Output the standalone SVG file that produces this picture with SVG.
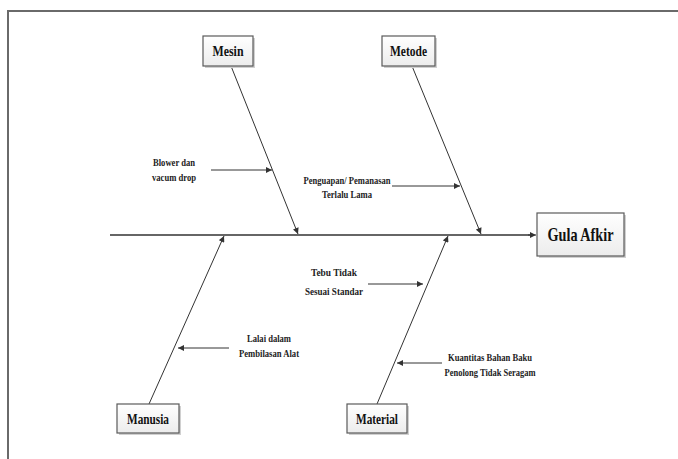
<svg xmlns="http://www.w3.org/2000/svg" width="678" height="459" viewBox="0 0 678 459">
  <style>
    .frame { fill: none; stroke: #6a6a6a; stroke-width: 2; }
    .box { fill: url(#boxFill); stroke: #5a5a5a; stroke-width: 1.2; }
    .shadow { fill: #d0d0d0; }
    text { font-family: 'Liberation Serif', 'DejaVu Serif', serif; font-weight: bold; text-anchor: middle; }
    .head { font-size: 15px; fill: #111; }
    .big { font-size: 19px; }
    .cause { font-size: 11px; fill: #222; }
    .bone { stroke: #333; stroke-width: 1; fill: none; marker-end: url(#arrow); }
    .spine { stroke: #666; stroke-width: 2; fill: none; }
  </style>
  <defs>
    <linearGradient id="boxFill" x1="0" y1="0" x2="0" y2="1">
      <stop offset="0" stop-color="#ffffff"/>
      <stop offset="1" stop-color="#ececec"/>
    </linearGradient>
    <marker id="arrow" viewBox="0 0 10 10" refX="10" refY="5" markerWidth="8" markerHeight="6" orient="auto" markerUnits="userSpaceOnUse">
      <path d="M0,0 L10,5 L0,10 z" fill="#333"/>
    </marker>
  </defs>

  <rect width="678" height="459" fill="#ffffff"/>
  <!-- page frame, running past the right and bottom edges -->
  <path class="frame" d="M8,470 L8,11 L690,11"/>

  <!-- connectors: spine, bones and cause arrows -->
  <g id="connectors">
    <line class="spine" x1="110" y1="235" x2="530" y2="235"/>
    <line class="bone" x1="528" y1="235" x2="536" y2="235"/>
    <line class="bone" x1="231" y1="66" x2="298" y2="234"/>
    <line class="bone" x1="412" y1="66" x2="481" y2="234"/>
    <line class="bone" x1="149" y1="404" x2="224" y2="236"/>
    <line class="bone" x1="377" y1="404" x2="448" y2="236"/>
    <line class="bone" x1="211" y1="170" x2="272" y2="170"/>
    <line class="bone" x1="392" y1="186" x2="460" y2="186"/>
    <line class="bone" x1="368" y1="284" x2="423" y2="284"/>
    <line class="bone" x1="229" y1="348" x2="178" y2="348"/>
    <line class="bone" x1="442" y1="363" x2="397" y2="363"/>
  </g>

  <!-- category boxes -->
  <g id="mesin">
    <rect class="shadow" x="205" y="38" width="50" height="30"/>
    <rect class="box" x="203" y="36" width="50" height="30"/>
    <text class="head" x="228" y="56" font-family="Liberation Serif" textLength="31" lengthAdjust="spacingAndGlyphs">Mesin</text>
  </g>
  <g id="metode">
    <rect class="shadow" x="384" y="38" width="53" height="30"/>
    <rect class="box" x="382" y="36" width="53" height="30"/>
    <text class="head" x="408.5" y="56" font-family="Liberation Serif" textLength="37" lengthAdjust="spacingAndGlyphs">Metode</text>
  </g>
  <g id="manusia">
    <rect class="shadow" x="119" y="406" width="62" height="29"/>
    <rect class="box" x="117" y="404" width="62" height="29"/>
    <text class="head" x="148" y="424" font-family="Liberation Serif" textLength="42" lengthAdjust="spacingAndGlyphs">Manusia</text>
  </g>
  <g id="material">
    <rect class="shadow" x="349" y="406" width="60" height="29"/>
    <rect class="box" x="347" y="404" width="60" height="29"/>
    <text class="head" x="377" y="424" font-family="Liberation Serif" textLength="42" lengthAdjust="spacingAndGlyphs">Material</text>
  </g>
  <g id="gula-afkir">
    <rect class="shadow" x="539" y="215" width="87" height="43"/>
    <rect class="box" x="537" y="213" width="87" height="43"/>
    <text class="head big" x="580.5" y="241" font-family="Liberation Serif" textLength="66" lengthAdjust="spacingAndGlyphs">Gula Afkir</text>
  </g>

  <!-- causes -->
  <g id="cause-blower">
    <text class="cause" x="174" y="166" textLength="42" lengthAdjust="spacingAndGlyphs">Blower dan</text>
    <text class="cause" x="174" y="181" textLength="44" lengthAdjust="spacingAndGlyphs">vacum drop</text>
  </g>
  <g id="cause-penguapan">
    <text class="cause" x="347" y="184" textLength="87" lengthAdjust="spacingAndGlyphs">Penguapan/ Pemanasan</text>
    <text class="cause" x="347" y="198" textLength="50" lengthAdjust="spacingAndGlyphs">Terlalu Lama</text>
  </g>
  <g id="cause-tebu">
    <text class="cause" x="334" y="276" textLength="46" lengthAdjust="spacingAndGlyphs">Tebu Tidak</text>
    <text class="cause" x="334" y="295" textLength="58" lengthAdjust="spacingAndGlyphs">Sesuai Standar</text>
  </g>
  <g id="cause-lalai">
    <text class="cause" x="269" y="342" textLength="44" lengthAdjust="spacingAndGlyphs">Lalai dalam</text>
    <text class="cause" x="269" y="357" textLength="60" lengthAdjust="spacingAndGlyphs">Pembilasan Alat</text>
  </g>
  <g id="cause-kuantitas">
    <text class="cause" x="490" y="361" textLength="84" lengthAdjust="spacingAndGlyphs">Kuantitas Bahan Baku</text>
    <text class="cause" x="490" y="376" textLength="91" lengthAdjust="spacingAndGlyphs">Penolong Tidak Seragam</text>
  </g>
</svg>
